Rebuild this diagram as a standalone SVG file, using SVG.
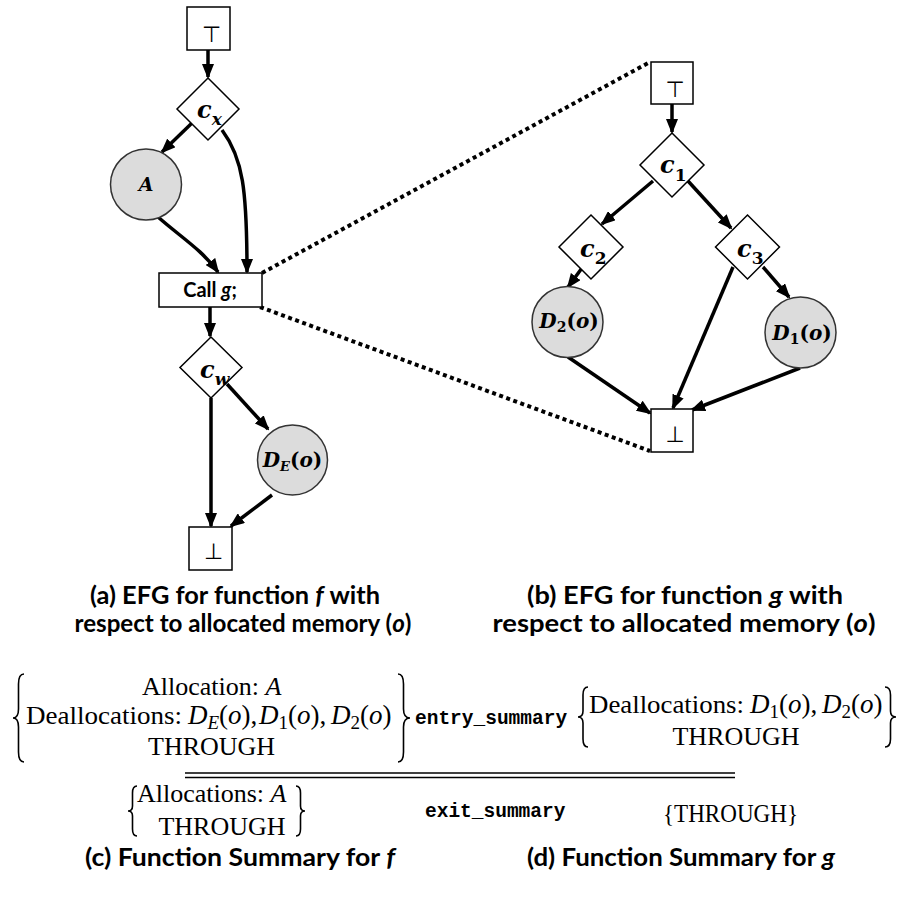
<svg xmlns="http://www.w3.org/2000/svg" width="903" height="899" viewBox="0 0 903 899">
  <defs>
    <marker id="ah" markerUnits="userSpaceOnUse" markerWidth="15" markerHeight="12" refX="13" refY="6" orient="auto">
      <path d="M0,0 L15,6 L0,12 z" fill="#000"/>
    </marker>
    <style>
      .edge { fill: none; stroke: #000; stroke-width: 3.5; marker-end: url(#ah); }
      .dot { fill: none; stroke: #000; stroke-width: 4; stroke-dasharray: 4 3.5; }
      .box { fill: #fff; stroke: #000; stroke-width: 1.5; }
      .circ { fill: #dcdcdc; stroke: #333; stroke-width: 1.5; }
      .m { font-family: "DejaVu Serif", serif; font-weight: bold; font-style: italic; fill: #000; }
      .up { font-style: normal; }
      .sym { font-family: "DejaVu Sans", sans-serif; font-size: 22px; text-anchor: middle; }
      .lbl { font-family: Lato, sans-serif; font-weight: bold; font-size: 20px; }
      .cap { font-family: Lato, sans-serif; font-weight: bold; font-size: 24px; text-anchor: middle; }
      .tx { font-family: "Liberation Serif", serif; font-size: 26px; }
      .mt { font-family: "Liberation Serif", serif; font-size: 27px; }
      .it { font-style: italic; }
      .code { font-family: "Liberation Mono", monospace; font-weight: bold; font-size: 19.5px; }
      .brace { fill: none; stroke: #000; stroke-width: 1.6; }
    </style>
  </defs>

  <!-- connectors -->
  <g id="connectors">
    <!-- EFG of f -->
    <path class="edge" d="M208,50 L208,77"/>
    <path class="edge" d="M192,123 L162,152"/>
    <path class="edge" d="M222,130 C243,158 247,190 247,272"/>
    <path class="edge" d="M158,217 C182,238 202,250 218,272"/>
    <path class="edge" d="M210,307 L210,336"/>
    <path class="edge" d="M211,398 L211,526"/>
    <path class="edge" d="M227,384 L268,429"/>
    <path class="edge" d="M272,495 L231,526"/>
    <!-- EFG of g -->
    <path class="edge" d="M672,104 L672,132"/>
    <path class="edge" d="M653,181 L602,224"/>
    <path class="edge" d="M688,181 L731,228"/>
    <path class="edge" d="M582,268 L568,287"/>
    <path class="edge" d="M763,267 L789,297"/>
    <path class="edge" d="M733,267 L673,408"/>
    <path class="edge" d="M568,357 L650,413"/>
    <path class="edge" d="M800,368 L692,410"/>
    <!-- expansion of the call site -->
    <path class="dot" d="M262,273 L650,62"/>
    <path class="dot" d="M260,307 L650,451"/>
  </g>

  <!-- EFG of f -->
  <g id="f-top">
    <rect class="box" x="187" y="7" width="43" height="43"/>
    <text class="sym" x="211.5" y="42">⊤</text>
  </g>
  <g id="f-cx">
    <polygon class="box" points="208,78 239,109 208,140 177,109"/>
    <text class="m" x="197" y="118" font-size="24">c<tspan font-size="17" dy="7">x</tspan></text>
  </g>
  <g id="f-A">
    <circle class="circ" cx="146" cy="184.5" r="35.5"/>
    <text class="m" x="146" y="191" font-size="19" text-anchor="middle">A</text>
  </g>
  <g id="f-call">
    <rect class="box" x="159" y="273" width="103" height="34"/>
    <text class="lbl" x="210" y="297" text-anchor="middle">Call <tspan font-style="italic">g</tspan>;</text>
  </g>
  <g id="f-cw">
    <polygon class="box" points="211,337 242,367.5 211,398 180,367.5"/>
    <text class="m" x="200" y="378" font-size="24">c<tspan font-size="17" dy="7">w</tspan></text>
  </g>
  <g id="f-DE">
    <circle class="circ" cx="292.5" cy="460" r="35"/>
    <text class="m" x="292.5" y="467" font-size="20" text-anchor="middle">D<tspan font-size="13" dy="4">E</tspan><tspan class="up" dy="-4">(</tspan>o<tspan class="up">)</tspan></text>
  </g>
  <g id="f-bottom">
    <rect class="box" x="189" y="527" width="43" height="43"/>
    <text class="sym" x="213.5" y="559">⊥</text>
  </g>

  <!-- EFG of g -->
  <g id="g-top">
    <rect class="box" x="651" y="62" width="42" height="42"/>
    <text class="sym" x="675" y="97">⊤</text>
  </g>
  <g id="g-c1">
    <polygon class="box" points="672,133 704,165 672,197 640,165"/>
    <text class="m" x="660" y="173" font-size="24">c<tspan class="up" font-size="17" dy="8">1</tspan></text>
  </g>
  <g id="g-c2">
    <polygon class="box" points="591,215 623,247 591,279 559,247"/>
    <text class="m" x="580" y="257" font-size="24">c<tspan class="up" font-size="17" dy="7">2</tspan></text>
  </g>
  <g id="g-c3">
    <polygon class="box" points="747.5,215 779.5,247 747.5,279 715.5,247"/>
    <text class="m" x="737" y="257" font-size="24">c<tspan class="up" font-size="17" dy="7">3</tspan></text>
  </g>
  <g id="g-D2">
    <circle class="circ" cx="567.5" cy="322" r="35.5"/>
    <text class="m" x="569" y="328" font-size="20" text-anchor="middle">D<tspan class="up" font-size="14" dy="4">2</tspan><tspan class="up" dy="-4">(</tspan>o<tspan class="up">)</tspan></text>
  </g>
  <g id="g-D1">
    <circle class="circ" cx="800.5" cy="332.5" r="35.5"/>
    <text class="m" x="802" y="340" font-size="20" text-anchor="middle">D<tspan class="up" font-size="14" dy="4">1</tspan><tspan class="up" dy="-4">(</tspan>o<tspan class="up">)</tspan></text>
  </g>
  <g id="g-bottom">
    <rect class="box" x="651" y="409" width="42" height="43"/>
    <text class="sym" x="675" y="442">⊥</text>
  </g>

  <!-- captions of the graphs -->
  <g id="captions-ab">
    <text class="cap" x="235" y="604" textLength="290" lengthAdjust="spacingAndGlyphs">(a) EFG for function <tspan font-style="italic">f</tspan> with</text>
    <text class="cap" x="243" y="632" textLength="337" lengthAdjust="spacingAndGlyphs">respect to allocated memory (<tspan font-style="italic">o</tspan>)</text>
    <text class="cap" x="685" y="604" textLength="316" lengthAdjust="spacingAndGlyphs">(b) EFG for function <tspan font-style="italic">g</tspan> with</text>
    <text class="cap" x="684" y="632" textLength="383" lengthAdjust="spacingAndGlyphs">respect to allocated memory (<tspan font-style="italic">o</tspan>)</text>
  </g>

  <!-- summaries -->
  <g id="summary-f-entry">
    <path class="brace" d="M24,674 Q18.5,674 18.5,684 L18.5,709 Q18.5,718 13,718 Q18.5,718 18.5,727 L18.5,752 Q18.5,762 24,762"/>
    <text class="tx" x="142" y="695">Allocation: <tspan class="it">A</tspan></text>
    <text class="tx" x="26" y="724" textLength="156" lengthAdjust="spacingAndGlyphs">Deallocations:</text>
    <text class="mt" x="188" y="724"><tspan class="it">D</tspan><tspan class="it" font-size="19" dy="5">E</tspan><tspan dy="-5">(</tspan><tspan class="it">o</tspan>),</text>
    <text class="mt" x="259" y="724"><tspan class="it">D</tspan><tspan font-size="19" dy="5">1</tspan><tspan dy="-5">(</tspan><tspan class="it">o</tspan>),</text>
    <text class="mt" x="331" y="724"><tspan class="it">D</tspan><tspan font-size="19" dy="5">2</tspan><tspan dy="-5">(</tspan><tspan class="it">o</tspan>)</text>
    <text class="tx" x="148" y="755">THROUGH</text>
    <path class="brace" d="M398,674 Q403.5,674 403.5,684 L403.5,709 Q403.5,718 410,718 Q403.5,718 403.5,727 L403.5,752 Q403.5,762 398,762"/>
  </g>

  <text class="code" x="415" y="724">entry_summary</text>

  <g id="summary-g-entry">
    <path class="brace" d="M588,687 Q583,687 583,695 L583,711 Q583,717 578,717 Q583,717 583,723 L583,739 Q583,747 588,747"/>
    <text class="tx" x="589" y="713" textLength="155" lengthAdjust="spacingAndGlyphs">Deallocations:</text>
    <text class="mt" x="750" y="713"><tspan class="it">D</tspan><tspan font-size="19" dy="5">1</tspan><tspan dy="-5">(</tspan><tspan class="it">o</tspan>),</text>
    <text class="mt" x="822" y="713"><tspan class="it">D</tspan><tspan font-size="19" dy="5">2</tspan><tspan dy="-5">(</tspan><tspan class="it">o</tspan>)</text>
    <text class="tx" x="736" y="745" text-anchor="middle">THROUGH</text>
    <path class="brace" d="M885,687 Q890.5,687 890.5,695 L890.5,711 Q890.5,717 896,717 Q890.5,717 890.5,723 L890.5,739 Q890.5,747 885,747"/>
  </g>

  <!-- double rule between entry and exit summaries -->
  <g id="rule">
    <line x1="185" y1="773" x2="735" y2="773" stroke="#000" stroke-width="1.5"/>
    <line x1="185" y1="777.5" x2="735" y2="777.5" stroke="#000" stroke-width="1.5"/>
  </g>

  <g id="summary-f-exit">
    <path class="brace" d="M137,786 Q132.5,786 132.5,793 L132.5,806 Q132.5,811 128,811 Q132.5,811 132.5,816 L132.5,829 Q132.5,836 137,836"/>
    <text class="tx" x="137" y="802">Allocations: <tspan class="it">A</tspan></text>
    <text class="tx" x="222" y="835" text-anchor="middle">THROUGH</text>
    <path class="brace" d="M296,786 Q300.5,786 300.5,793 L300.5,806 Q300.5,811 305,811 Q300.5,811 300.5,816 L300.5,829 Q300.5,836 296,836"/>
  </g>

  <text class="code" x="425" y="817">exit_summary</text>

  <text id="summary-g-exit" class="tx" x="663" y="822" textLength="135" lengthAdjust="spacingAndGlyphs">{THROUGH}</text>

  <g id="captions-cd">
    <text class="cap" x="240" y="866" textLength="310" lengthAdjust="spacingAndGlyphs">(c) Function Summary for <tspan font-style="italic">f</tspan></text>
    <text class="cap" x="681" y="866" textLength="308" lengthAdjust="spacingAndGlyphs">(d) Function Summary for <tspan font-style="italic">g</tspan></text>
  </g>
</svg>
